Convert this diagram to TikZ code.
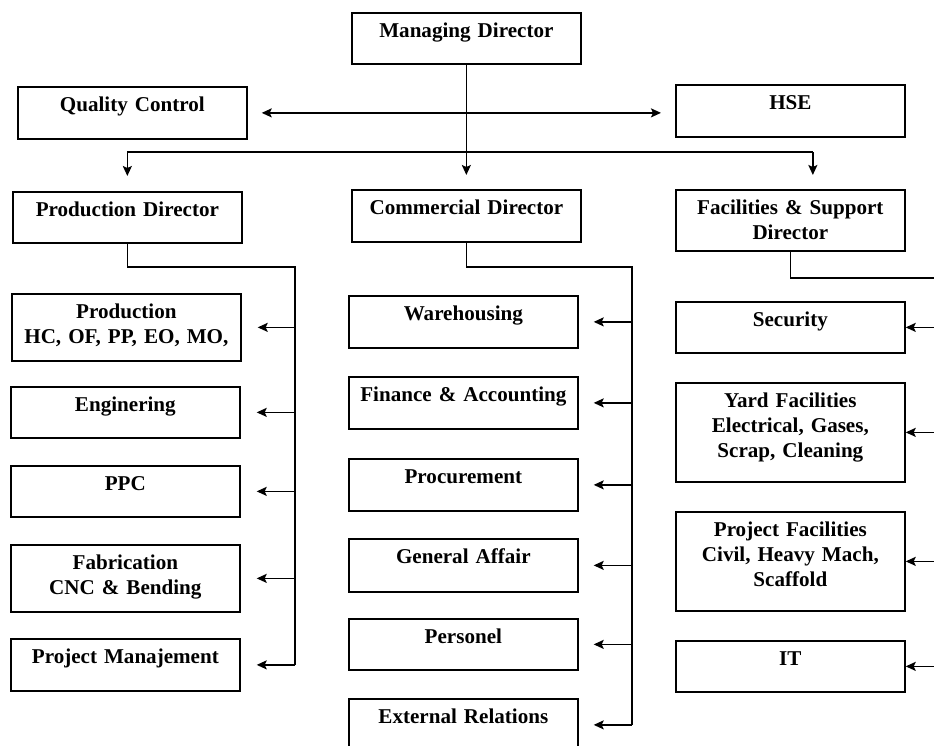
\documentclass[tikz,border=0pt]{standalone}
\usepackage{fontspec}
\setmainfont{Liberation Serif}
\usetikzlibrary{arrows.meta}
\tikzset{
  orgbox/.style={draw, line width=1pt, inner sep=0pt, anchor=north west,
    align=center, text width=4.58cm, text height=0.5cm, text depth=#1,
    font=\fontsize{12}{14.2}\selectfont\bfseries},
  orgbox/.default=0.52cm,
  link/.style={line width=0.9pt},
  arr/.style={link, -{Stealth[length=2mm, width=1.8mm, inset=0.4mm]}},
  arrs/.style={link, {Stealth[length=2mm, width=1.8mm, inset=0.4mm]}-{Stealth[length=2mm, width=1.8mm, inset=0.4mm]}}
}
\begin{document}
\begin{tikzpicture}[x=0.02cm, y=-0.02cm]
        \useasboundingbox (0,0) rectangle (934,745);
        % Top level
        \node[orgbox] (md) at (351,12) {Managing Director};
        \node[orgbox=0.54cm] (qc) at (17,86) {Quality Control};
        \node[orgbox=0.54cm] (hse) at (675,84) {HSE};

        % Directors
        \node[orgbox] (pd) at (12,191) {Production Director};
        \node[orgbox=0.54cm] (cd) at (351,189) {Commercial Director};
        \node[orgbox=0.72cm] (fsd) at (675,189) {Facilities \& Support\\Director};

        % Production units
        \node[orgbox=0.84cm] (prod) at (11,293) {Production\\HC, OF, PP, EO, MO,};
        \node[orgbox] (eng) at (10,386) {Enginering};
        \node[orgbox] (ppc) at (10,465) {PPC};
        \node[orgbox=0.84cm] (fab) at (10,544) {Fabrication\\CNC \& Bending};
        \node[orgbox=0.54cm] (pm) at (10,638) {Project Manajement};

        % Commercial units
        \node[orgbox=0.54cm] (wh) at (348,295) {Warehousing};
        \node[orgbox=0.54cm] (fin) at (348,376) {Finance \& Accounting};
        \node[orgbox=0.54cm] (proc) at (348,458) {Procurement};
        \node[orgbox=0.56cm] (ga) at (348,538) {General Affair};
        \node[orgbox] (pers) at (348,618) {Personel};
        \node[orgbox=0.54cm] (ext) at (348,698) {External Relations};

        % Facilities units
        \node[orgbox] (sec) at (675,301) {Security};
        \node[orgbox=1.48cm] (yard) at (675,382) {Yard Facilities\\Electrical, Gases,\\Scrap, Cleaning};
        \node[orgbox=1.48cm] (pf) at (675,511) {Project Facilities\\Civil, Heavy Mach,\\Scaffold};
        \node[orgbox] (it) at (675,640) {IT};

        % Bus lines
        \coordinate (busT) at (0,152);
        \coordinate (busL) at (295,267);
        \coordinate (busM) at (632,267);
        \coordinate (busR) at (950,278);
        \coordinate (fsdtop) at ([xshift=0.45cm]fsd.north);

        % Managing Director down to the directors
        \draw[arr, shorten >=0.28cm] (md.south) -- (cd.north);
        \draw[link] (pd.north |- busT) -- (fsdtop |- busT);
        \draw[arr, shorten >=0.3cm] (pd.north |- busT) -- (pd.north);
        \draw[arr, shorten >=0.28cm] (fsdtop |- busT) -- (fsdtop);

        % Quality Control and HSE
        \draw[arrs, shorten <=0.28cm, shorten >=0.28cm] (qc.east) -- (qc.east -| hse.west);

        % Production Director branch
        \draw[link] (pd.south) |- (busL) -- (busL |- pm.east);
        \foreach \u in {prod, eng, ppc, fab, pm}
          \draw[arr, shorten >=0.32cm] (busL |- \u.east) -- (\u.east);

        % Commercial Director branch
        \draw[link] (cd.south) |- (busM) -- (busM |- ext.east);
        \foreach \u in {wh, fin, proc, ga, pers, ext}
          \draw[arr, shorten >=0.3cm] (busM |- \u.east) -- (\u.east);

        % Facilities & Support Director branch
        \draw[link] (fsd.south) |- (busR) -- (busR |- it.east);
        \foreach \u in {sec, yard, pf, it}
          \draw[arr] (busR |- \u.east) -- (\u.east);
    \end{tikzpicture}
\end{document}
